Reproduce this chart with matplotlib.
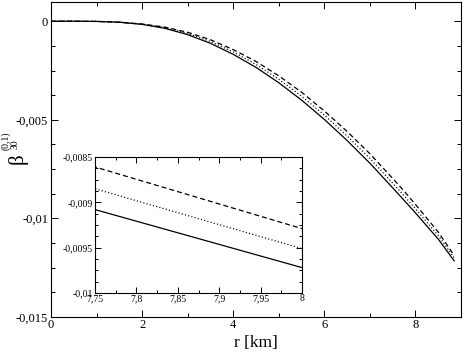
import matplotlib
matplotlib.use("Agg")
import matplotlib.pyplot as plt
from matplotlib.ticker import MultipleLocator, FixedLocator, FixedFormatter

plt.rcParams['font.family'] = ['Liberation Serif', 'DejaVu Serif']
plt.rcParams['lines.scale_dashes'] = False

# ---- data ----
r_km = [0.0, 0.5, 1.0, 1.5, 2.0, 2.5, 3.0, 3.5, 4.0, 4.5, 5.0, 5.5, 6.0,
        6.5, 7.0, 7.5, 7.75, 8.0, 8.5, 8.85]
beta_solid = [0.0, 0.0, -0.00001, -0.00005, -0.00016, -0.00036, -0.00068,
              -0.00112, -0.00168, -0.00234, -0.00312, -0.00400, -0.00498,
              -0.00605, -0.00720, -0.00845, -0.00908, -0.00972, -0.01105,
              -0.01215]
beta_dotted = [0.0, 0.0, -0.00001, -0.00005, -0.00015, -0.00033, -0.00062,
               -0.00103, -0.00156, -0.00219, -0.00294, -0.00380, -0.00476,
               -0.00582, -0.00696, -0.00821, -0.00885, -0.00951, -0.01087,
               -0.01200]
beta_dashed = [0.0, 0.0, -0.00001, -0.00005, -0.00014, -0.00030, -0.00056,
               -0.00094, -0.00144, -0.00204, -0.00277, -0.00360, -0.00455,
               -0.00559, -0.00672, -0.00797, -0.00861, -0.00929, -0.01069,
               -0.01188]

main_xticks = [0, 2, 4, 6, 8]
main_xticklabels = ['0', '2', '4', '6', '8']
main_yticks = [0.0, -0.005, -0.01, -0.015]
main_yticklabels = ['0', '-0,005', '-0,01', '-0,015']

inset_xticks = [7.75, 7.8, 7.85, 7.9, 7.95, 8.0]
inset_xticklabels = ['7,75', '7,8', '7,85', '7,9', '7,95', '8']
inset_yticks = [-0.0085, -0.009, -0.0095, -0.01]
inset_yticklabels = ['-0,0085', '-0,009', '-0,0095', '-0,01']

W, H = 463, 354
fig = plt.figure(figsize=(W / 100, H / 100), dpi=100)


def px_rect(l, t, r, b):
    return [l / W, 1 - b / H, (r - l) / W, (b - t) / H]


def draw_lines(ax, lw):
    ax.plot(r_km, beta_solid, color='black', lw=lw, linestyle='-')
    ax.plot(r_km, beta_dotted, color='black', lw=lw, linestyle=(0, (0.8, 1.6)))
    ax.plot(r_km, beta_dashed, color='black', lw=lw, linestyle=(0, (3.6, 2.2)))


def style_axes(ax, maj, mnr, lsize, pad):
    for s in ax.spines.values():
        s.set_linewidth(0.8)
    ax.tick_params(which='both', direction='in', top=True, right=True,
                   width=0.7, labelsize=lsize, pad=pad)
    ax.tick_params(which='major', length=maj)
    ax.tick_params(which='minor', length=mnr)


# main axes
ax = fig.add_axes(px_rect(51, 1.5, 461, 317))
draw_lines(ax, 0.9)
ax.set_xlim(0, 9)
ax.set_ylim(-0.015, 0.001)
ax.xaxis.set_major_locator(FixedLocator(main_xticks))
ax.xaxis.set_major_formatter(FixedFormatter(main_xticklabels))
ax.xaxis.set_minor_locator(MultipleLocator(1))
ax.yaxis.set_major_locator(FixedLocator(main_yticks))
ax.yaxis.set_major_formatter(FixedFormatter(main_yticklabels))
ax.yaxis.set_minor_locator(MultipleLocator(0.00125))
style_axes(ax, 5, 3, 9, 2)
ax.tick_params(axis='x', pad=1.5)
ax.set_xlabel('r [km]', fontsize=12.5, labelpad=2.5)

# y label composed as beta with sub/superscript
fig.text(18 / W, 1 - 159 / H, 'β', rotation=90, ha='center', va='center',
         fontsize=15)
fig.text(15 / W, 1 - 144 / H, '30', rotation=90, ha='center', va='center',
         fontsize=7)
fig.text(5.5 / W, 1 - 141 / H, '(0,1)', rotation=90, ha='center', va='center',
         fontsize=7)

# inset axes
axi = fig.add_axes(px_rect(95, 157, 302, 293))
draw_lines(axi, 0.9)
axi.set_xlim(7.75, 8.0)
axi.set_ylim(-0.01, -0.0085)
axi.xaxis.set_major_locator(FixedLocator(inset_xticks))
axi.xaxis.set_major_formatter(FixedFormatter(inset_xticklabels))
axi.xaxis.set_minor_locator(MultipleLocator(0.025))
axi.yaxis.set_major_locator(FixedLocator(inset_yticks))
axi.yaxis.set_major_formatter(FixedFormatter(inset_yticklabels))
axi.yaxis.set_minor_locator(MultipleLocator(0.000125))
style_axes(axi, 4, 2, 7, 1.5)
axi.tick_params(axis='x', pad=1)

fig.savefig('out.png', dpi=100)
